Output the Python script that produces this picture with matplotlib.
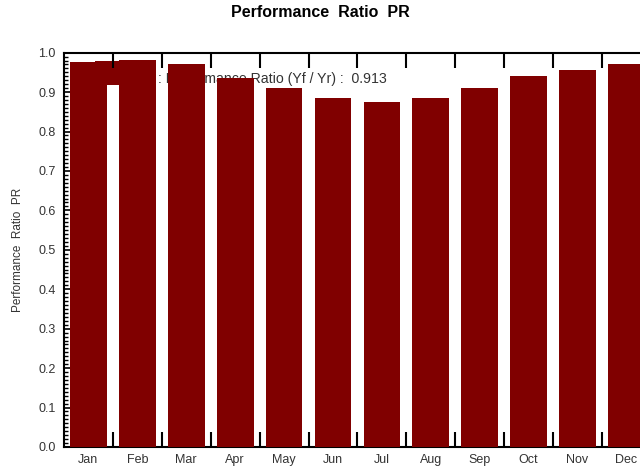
import matplotlib
matplotlib.use("Agg")
import matplotlib.pyplot as plt
import numpy as np
from matplotlib.ticker import MultipleLocator, FixedLocator, NullFormatter

months = ["Jan", "Feb", "Mar", "Apr", "May", "Jun", "Jul", "Aug", "Sep", "Oct", "Nov", "Dec"]
pr_values = [0.975, 0.982, 0.971, 0.936, 0.910, 0.884, 0.876, 0.884, 0.910, 0.942, 0.957, 0.971]
legend_label = ": Performance Ratio (Yf / Yr) :  0.913"
title = "Performance  Ratio  PR"
ylabel = "Performance  Ratio  PR"

plt.rcParams['font.family'] = ['Liberation Sans', 'DejaVu Sans']

fig = plt.figure(figsize=(6.4, 4.7), dpi=100)
ax = fig.add_axes([0.100, 0.049, 0.917, 0.839])

x = np.arange(len(months))
bars = ax.bar(x, pr_values, width=0.75, color="#800000", zorder=3, label=legend_label)

ax.set_xlim(-0.5, len(months) - 0.5)
ax.set_ylim(0, 1.0)

# y ticks
ax.yaxis.set_minor_locator(MultipleLocator(0.01))
yt = np.round(np.arange(0, 1.01, 0.1), 1)
ax.set_yticks(yt)
ax.set_yticklabels([f"{v:.1f}" for v in yt])
ax.tick_params(axis='y', which='major', direction='in', length=6, width=1.2,
               labelsize=9, labelcolor='#333333', pad=6)
ax.tick_params(axis='y', which='minor', direction='in', length=3, width=1.0)

# x ticks: marks at boundaries, labels at centres
ax.xaxis.set_major_locator(FixedLocator(x[:-1] + 0.5))
ax.xaxis.set_major_formatter(NullFormatter())
ax.xaxis.set_minor_locator(FixedLocator(x))
ax.set_xticklabels(months, minor=True)
ax.tick_params(axis='x', which='major', direction='in', length=11, width=1.5,
               top=True, bottom=True)
ax.tick_params(axis='x', which='minor', length=0, labelsize=9,
               labelcolor='#333333', pad=5)

for s in ax.spines.values():
    s.set_linewidth(1.5)

ax.set_ylabel(ylabel, fontsize=8.5, color='#333333', labelpad=10)
fig.suptitle(title, fontsize=11.5, fontweight='bold', x=0.5, y=0.99)

leg = ax.legend(loc='upper left', bbox_to_anchor=(0.053, 0.978), frameon=False,
                fontsize=10.2, handlelength=4.2, handleheight=2.2, handletextpad=0.25,
                borderpad=0, borderaxespad=0, labelcolor='#333333')
leg.set_zorder(1)
for t in leg.get_texts():
    t.set_y(-5)

fig.savefig("out.png", dpi=100)
